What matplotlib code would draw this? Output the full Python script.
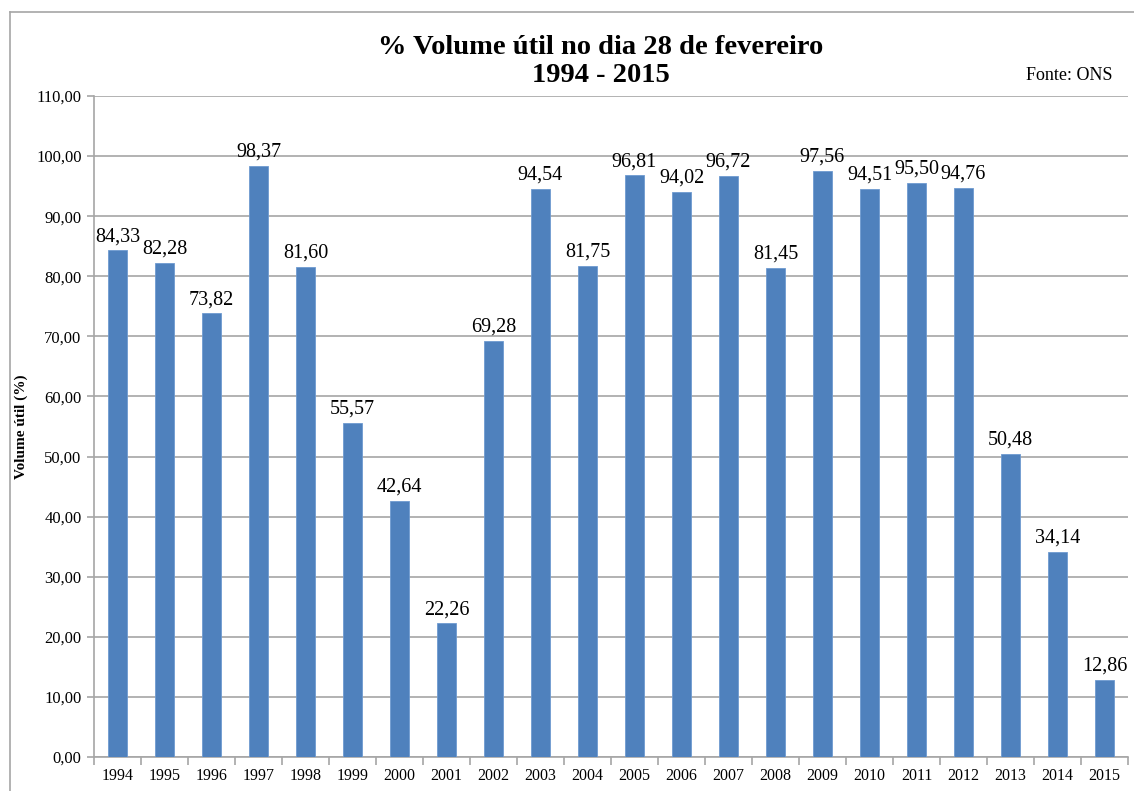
import matplotlib
matplotlib.use('Agg')
from matplotlib import pyplot as plt
from matplotlib.lines import Line2D

# dados: % volume util no dia 28 de fevereiro (fonte ONS)
anos = ['1994', '1995', '1996', '1997', '1998', '1999', '2000', '2001', '2002', '2003', '2004',
        '2005', '2006', '2007', '2008', '2009', '2010', '2011', '2012', '2013', '2014', '2015']
volume = [84.33, 82.28, 73.82, 98.37, 81.60, 55.57, 42.64, 22.26, 69.28, 94.54, 81.75,
          96.81, 94.02, 96.72, 81.45, 97.56, 94.51, 95.50, 94.76, 50.48, 34.14, 12.86]
yticks = [0, 10, 20, 30, 40, 50, 60, 70, 80, 90, 100, 110]

plt.rcParams['font.family'] = ['Liberation Serif', 'DejaVu Serif']
cinza = '#a6a6a6'

fig = plt.figure(figsize=(11.34, 7.91), dpi=100)
ax = fig.add_axes([94/1134, 34/791, 1034/1134, 661/791])

x = list(range(len(anos)))
ax.bar(x, volume, width=0.4, color='#4f81bd', edgecolor='#6f9ad0', linewidth=0.6, zorder=3)

for i in range(len(anos)):
    v = volume[i]
    ax.annotate(('%.2f' % v).replace('.', ','), (i, v), xytext=(0, 3), textcoords='offset points',
                ha='center', va='bottom', fontsize=14.5, zorder=4)

ax.set_xlim(-0.5, len(anos) - 0.5)
ax.set_ylim(0, 110)
ax.set_yticks(yticks)
ax.set_yticklabels([('%.2f' % t).replace('.', ',') for t in yticks], fontsize=12)
ax.yaxis.grid(True, color=cinza, linewidth=1.2, zorder=0)
ax.set_axisbelow(True)

ax.set_xticks(x)
ax.set_xticklabels(anos, fontsize=11.5)
ax.tick_params(axis='x', length=0, pad=8)
ax.set_xticks([i + 0.5 for i in range(-1, len(anos))], minor=True)
ax.tick_params(axis='x', which='minor', length=6, color=cinza, width=1.2)
ax.tick_params(axis='y', length=5, color=cinza, width=1.2, pad=4)

for s in ['top', 'right']:
    ax.spines[s].set_visible(False)
for s in ['left', 'bottom']:
    ax.spines[s].set_color(cinza)
    ax.spines[s].set_linewidth(1.2)

ax.set_ylabel('Volume útil (%)', fontsize=11, fontweight='bold', labelpad=6)

fig.text(601/1134, 1 - 47/791, '% Volume útil no dia 28 de fevereiro', ha='center', va='center',
         fontsize=20.5, fontweight='bold')
fig.text(601/1134, 1 - 76/791, '1994 - 2015', ha='center', va='center',
         fontsize=20.5, fontweight='bold')
fig.text(1113/1134, 1 - 75/791, 'Fonte: ONS', ha='right', va='center', fontsize=13)

# moldura do grafico
fig.add_artist(Line2D([10/1134, 1], [1 - 12/791, 1 - 12/791], color=cinza, linewidth=1.2))
fig.add_artist(Line2D([10/1134, 10/1134], [0, 1 - 12/791], color=cinza, linewidth=1.2))

fig.savefig('out.png', dpi=100)
